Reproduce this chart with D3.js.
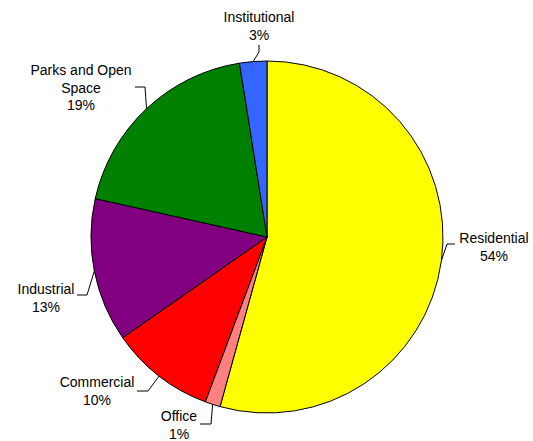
<!DOCTYPE html>
<html><head><meta charset="utf-8">
<script src="https://cdn.jsdelivr.net/npm/d3@7"></script>
<style>body{margin:0;background:#fff}svg{display:block}</style>
</head><body>
<svg id="c" width="533" height="441"></svg>
<script>
const categories = ["Residential","Office","Commercial","Industrial","Parks and Open Space","Institutional"];
const values = [54.3, 1.4, 9.6, 13.2, 19.0, 2.5];
const pctLabels = ["54%","1%","10%","13%","19%","3%"];
const labelLines = [["Residential"],["Office"],["Commercial"],["Industrial"],["Parks and Open","Space"],["Institutional"]];
const colors = ["#FFFF00","#FF8080","#FF0000","#800080","#008000","#3366FF"];
// layout: label center (lx, ly of first baseline) and elbow point, relative to pie center
const labelLayout = [
  {lx:227, ly:6,    ex:180, ey:7,    hx:188},
  {lx:-88, ly:184,  ex:-56, ey:187,  hx:-67},
  {lx:-170, ly:150, ex:-119, ey:154, hx:-130},
  {lx:-221, ly:57,  ex:-180, ey:58,  hx:-190},
  {lx:-186, ly:-162, ex:-122, ey:-150, hx:-132},
  {lx:-8,  ly:-215, ex:-8, ey:-185, hx:null, vy:-192}
];
const W=533,H=441,cx=267,cy=237,R=176,lineH=17.5;
const svg=d3.select("#c");
const g=svg.append("g").attr("transform",`translate(${cx},${cy})`);
const pie=d3.pie().sort(null).value(d=>d)(values);
const arc=d3.arc().innerRadius(0).outerRadius(R);
g.selectAll("path.s").data(pie).join("path").attr("class","s")
  .attr("d",arc).attr("fill",(d,i)=>colors[i]).attr("stroke","#000").attr("stroke-width",1);
pie.forEach((d,i)=>{
  const a=(d.startAngle+d.endAngle)/2;
  const px=R*Math.sin(a), py=-R*Math.cos(a);
  const L=labelLayout[i];
  const pts = L.hx===null ? [[px,py],[L.ex,L.ey],[L.ex,L.vy]] : [[px,py],[L.ex,L.ey],[L.hx,L.ey]];
  g.append("path").attr("d",d3.line()(pts)).attr("fill","none").attr("stroke","#000").attr("stroke-width",1);
  const lines=[...labelLines[i],pctLabels[i]];
  const t=g.append("text").attr("font-family","Liberation Sans, Arial, sans-serif").attr("font-size",14)
    .attr("fill","#000").attr("text-anchor","middle");
  lines.forEach((s,k)=>t.append("tspan").attr("x",L.lx).attr("y",L.ly+k*lineH).text(s));
});
</script>
</body></html>
